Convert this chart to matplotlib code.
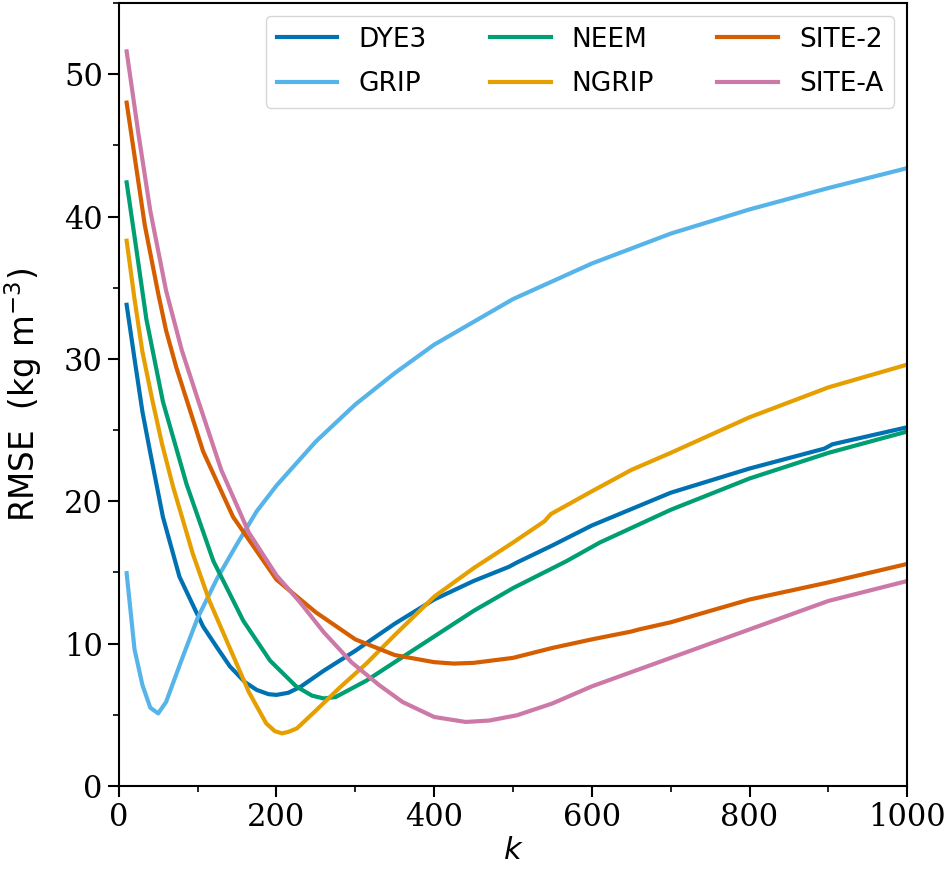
import matplotlib
matplotlib.use("Agg")
import matplotlib.pyplot as plt
from matplotlib.ticker import MultipleLocator

# ---- data ----
k_dye3 = [10, 20, 30, 40, 56, 77, 107, 125, 141, 160, 175, 190, 200, 215, 230, 260, 300, 350, 400, 450, 495, 505, 550, 600, 700, 800, 895, 905, 1000]
rmse_dye3 = [33.8, 30.0, 26.3, 23.4, 18.9, 14.7, 11.2, 9.7, 8.4, 7.3, 6.75, 6.45, 6.4, 6.55, 6.95, 8.1, 9.5, 11.4, 13.1, 14.4, 15.4, 15.7, 16.9, 18.3, 20.6, 22.3, 23.7, 24.0, 25.2]

k_grip = [10, 20, 30, 40, 50, 60, 70, 80, 100, 125, 150, 175, 200, 250, 300, 350, 400, 450, 500, 600, 700, 800, 900, 1000]
rmse_grip = [14.95, 9.6, 7.1, 5.5, 5.1, 5.9, 7.4, 8.9, 11.8, 14.6, 17.0, 19.3, 21.1, 24.2, 26.8, 29.0, 31.0, 32.6, 34.2, 36.7, 38.8, 40.5, 42.0, 43.4]

k_neem = [10, 20, 35, 56, 86, 120, 158, 192, 225, 245, 260, 275, 314, 350, 400, 450, 500, 568, 610, 700, 800, 900, 1000]
rmse_neem = [42.4, 38.6, 32.8, 27.0, 21.2, 15.8, 11.6, 8.8, 7.0, 6.35, 6.15, 6.25, 7.4, 8.7, 10.5, 12.3, 13.9, 15.8, 17.1, 19.4, 21.6, 23.4, 24.9]

k_ngrip = [10, 20, 30, 43, 55, 69, 94, 115, 140, 165, 187, 198, 207, 215, 226, 250, 280, 314, 350, 400, 450, 500, 540, 548, 600, 650, 700, 800, 900, 1000]
rmse_ngrip = [38.3, 34.2, 30.5, 27.0, 24.0, 21.0, 16.3, 13.0, 9.8, 6.6, 4.4, 3.85, 3.7, 3.8, 4.05, 5.3, 6.9, 8.6, 10.6, 13.3, 15.3, 17.1, 18.6, 19.1, 20.7, 22.2, 23.4, 25.9, 28.0, 29.6]

k_site2 = [10, 33, 50, 60, 73, 107, 145, 200, 250, 300, 350, 400, 425, 450, 500, 550, 600, 650, 660, 700, 800, 900, 1000]
rmse_site2 = [48.0, 39.4, 34.6, 32.0, 29.4, 23.5, 18.9, 14.5, 12.2, 10.3, 9.2, 8.7, 8.6, 8.65, 9.0, 9.7, 10.3, 10.85, 11.0, 11.5, 13.1, 14.3, 15.6]

k_sitea = [10, 25, 40, 60, 80, 100, 130, 165, 200, 230, 260, 295, 330, 360, 400, 440, 470, 505, 550, 600, 650, 700, 750, 800, 900, 1000]
rmse_sitea = [51.6, 45.8, 40.4, 34.8, 30.6, 27.2, 22.2, 17.8, 14.8, 12.9, 10.8, 8.7, 7.1, 5.9, 4.85, 4.5, 4.6, 4.97, 5.8, 7.0, 8.0, 9.0, 10.0, 11.0, 13.0, 14.4]

labels = ["DYE3", "GRIP", "NEEM", "NGRIP", "SITE-2", "SITE-A"]
colors = ["#0072B2", "#56B4E9", "#009E73", "#E69F00", "#D55E00", "#CC79A7"]

series = [(k_dye3, rmse_dye3), (k_grip, rmse_grip), (k_neem, rmse_neem),
          (k_ngrip, rmse_ngrip), (k_site2, rmse_site2), (k_sitea, rmse_sitea)]

fig = plt.figure(figsize=(9.5, 8.72), dpi=100)
ax = fig.add_axes([0.125, 0.0986, 0.83, 0.898])

for (kx, ry), lab, c in zip(series, labels, colors):
    ax.plot(kx, ry, color=c, lw=3, label=lab)

ax.set_xlim(0, 1000)
ax.set_ylim(0, 55)
ax.xaxis.set_major_locator(MultipleLocator(200))
ax.xaxis.set_minor_locator(MultipleLocator(100))
ax.yaxis.set_major_locator(MultipleLocator(10))
ax.yaxis.set_minor_locator(MultipleLocator(5))
ax.tick_params(which="major", length=8, width=1.5)
ax.tick_params(which="minor", length=4, width=1.2)
for lab in ax.get_xticklabels() + ax.get_yticklabels():
    lab.set_family("DejaVu Serif")
    lab.set_fontsize(22)
for sp in ax.spines.values():
    sp.set_linewidth(1.5)

ax.set_xlabel("$k$", fontsize=22, labelpad=2)
ax.set_ylabel("RMSE  (kg m$^{-3}$)", fontsize=23.5, labelpad=14)

ax.legend(loc="upper right", ncol=3, fontsize=19, handlelength=2.3,
          columnspacing=2.4, labelspacing=0.7, borderaxespad=0.5)

fig.savefig("out.png", dpi=100)
